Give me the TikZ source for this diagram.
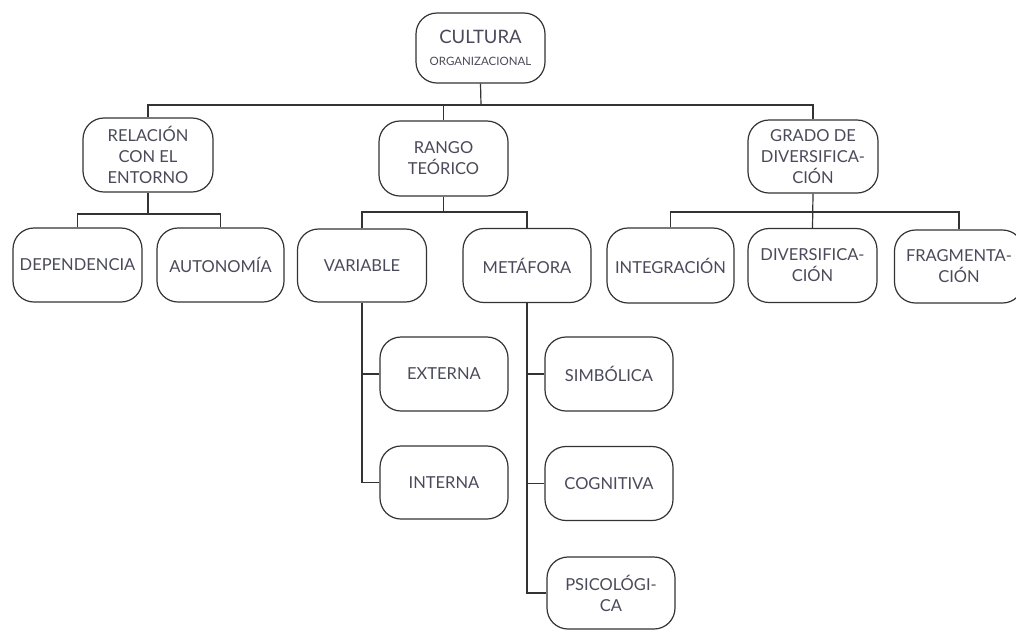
\documentclass[tikz,border=0pt]{standalone}
\usepackage{fontspec}
\setmainfont{Lato}
\definecolor{txt}{HTML}{4A4A5A}
\definecolor{ln}{HTML}{333333}
\begin{document}
\begin{tikzpicture}[x=1pt,y=-1pt,
  box/.style={draw=ln, line width=1.2pt, rounded corners=21pt, minimum width=129pt, minimum height=74pt,
    align=center, text=txt, inner sep=2pt, font=\fontsize{16.5}{21}\selectfont},
  conn/.style={draw=ln, line width=1.2pt}]
\useasboundingbox (0,0) rectangle (1016,630);
\clip (0,0) rectangle (1016,630);
\fill[white] (0,0) rectangle (1016,630);
% nodes
\node[box, minimum height=70pt] (cult) at (480.5,48) {{\fontsize{18.5}{20}\selectfont CULTURA}\\[1pt]{\fontsize{11.5}{12}\selectfont ORGANIZACIONAL}};
\node[box, minimum width=130pt] (rel) at (148,155) {RELACIÓN\\CON EL\\ENTORNO};
\node[box, minimum height=75pt] (rango) at (443.5,158.5) {RANGO\\TEÓRICO};
\node[box, minimum width=130pt, minimum height=73pt] (grado) at (813,156.5) {GRADO DE\\DIVERSIFICA-\\CIÓN};
\node[box] (dep) at (77.5,265) {DEPENDENCIA};
\node[box, minimum width=127pt] (aut) at (220.5,265) {AUTONOMÍA};
\node[box, minimum height=73pt] (var) at (362,265.5) {VARIABLE};
\node[box, minimum width=128pt] (met) at (527,265.5) {METÁFORA};
\node[box, minimum width=127pt, minimum height=75pt] (integ) at (670.5,265.5) {INTEGRACIÓN};
\node[box] (div) at (812.5,265.5) {DIVERSIFICA-\\CIÓN};
\node[box, minimum height=73pt] (frag) at (959,266.5) {FRAGMENTA-\\CIÓN};
\node[box, minimum width=128pt] (ext) at (444,374) {EXTERNA};
\node[box, minimum width=128pt, minimum height=73pt] (int) at (444,482.5) {INTERNA};
\node[box, minimum width=128pt] (sim) at (609,374) {SIMBÓLICA};
\node[box, minimum width=128pt] (cog) at (609,483.5) {COGNITIVA};
\node[box, minimum width=128pt, minimum height=72pt] (psi) at (611,593) {PSICOLÓGI-\\CA};
% top level connectors
\coordinate (b0) at (481,105);
\draw[conn] (cult.south) -- (b0);
\draw[conn] (rel.north) |- (b0) -| (grado.north);
\draw[conn] (rango.north) -- (rango.north |- b0);
% relacion
\coordinate (b1) at (148,214);
\draw[conn] (rel.south) -- (b1);
\draw[conn] (dep.north) |- (b1) -| (aut.north);
% rango
\coordinate (b2) at (443.5,212);
\draw[conn] (rango.south) -- (b2);
\draw[conn] (var.north) |- (b2) -| (met.north);
% grado
\coordinate (b3) at (813,212);
\draw[conn] (grado.south) -- (div.north);
\draw[conn] (integ.north) |- (b3) -| (frag.north);
% variable branch
\draw[conn] (var.south) |- (int.west);
\draw[conn] (var.south |- ext.west) -- (ext.west);
% metafora branch
\draw[conn] (met.south) |- (psi.west);
\draw[conn] (met.south |- sim.west) -- (sim.west);
\draw[conn] (met.south |- cog.west) -- (cog.west);
\end{tikzpicture}
\end{document}
